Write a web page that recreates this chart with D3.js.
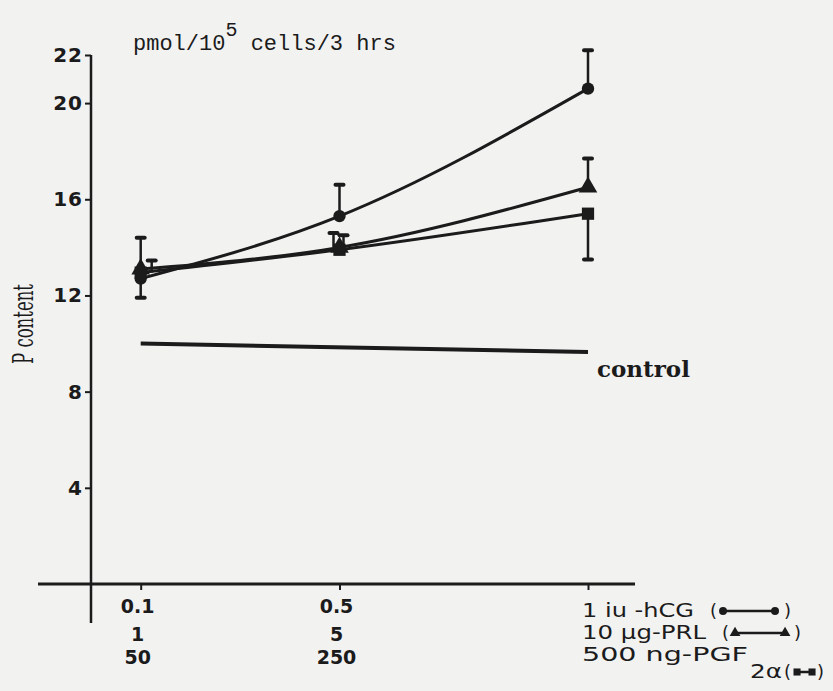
<!DOCTYPE html>
<html>
<head>
<meta charset="utf-8">
<script src="https://cdn.jsdelivr.net/npm/d3@7"></script>
<style>
  body { margin: 0; background: #f2f2f1; }
  svg { display: block; }
</style>
</head>
<body>
<svg id="chart"></svg>
<script>
// dose levels (fraction of top dose) and the three label rows under each tick
const doses = [0.1, 0.5, 1];
const doseRow1 = ["0.1", "0.5", "1 iu -hCG"];
const doseRow2 = ["1", "5", "10 \u00b5g-PRL"];
const doseRow3 = ["50", "250", "500 ng-PGF"];

// P content, pmol/10^5 cells/3 hrs
const hcg = [12.7, 15.3, 20.6];
const hcgErrUp = [0, 1.3, 1.6];
const hcgErrDown = [0.8, 0, 0];
const prl = [13.1, 14.0, 16.5];
const prlErrUp = [1.3, 0.6, 1.2];
const prlErrDown = [0, 0, 0];
const pgf = [12.95, 13.9, 15.4];
const pgfErrUp = [0.5, 0.6, 0];
const pgfErrDown = [0, 0, 1.9];

const controlDoses = [0.1, 1];
const control = [10.0, 9.65];

const yTicks = [4, 8, 12, 16, 20, 22];

const width = 833, height = 691;
const ink = "#1b1b1b";

const svg = d3.select("#chart")
  .attr("width", width)
  .attr("height", height);

const x = d3.scaleLinear().domain([0, 1]).range([91, 588]);
const y = d3.scaleLinear().domain([0, 22]).range([584, 55]);

// x axis line, runs past both ends
svg.append("line")
  .attr("x1", 38).attr("x2", 635)
  .attr("y1", y(0)).attr("y2", y(0))
  .attr("stroke", ink).attr("stroke-width", 3);

// y axis line, runs below the x axis
svg.append("line")
  .attr("x1", x(0)).attr("x2", x(0))
  .attr("y1", y(22)).attr("y2", y(0) + 39)
  .attr("stroke", ink).attr("stroke-width", 2.5);

const labelFont = "'DejaVu Sans', sans-serif";

const yAxis = svg.append("g")
  .attr("transform", "translate(" + x(0) + ",0)")
  .call(d3.axisLeft(y).tickValues(yTicks).tickSize(6).tickPadding(2));
yAxis.select(".domain").remove();
yAxis.selectAll("line").attr("stroke", ink).attr("stroke-width", 2);
yAxis.selectAll("text")
  .attr("fill", ink)
  .style("font-family", labelFont)
  .style("font-size", "20px")
  .style("font-weight", "bold")
  .style("letter-spacing", "1px");

const xAxis = svg.append("g")
  .attr("transform", "translate(0," + y(0) + ")")
  .call(d3.axisBottom(x).tickValues(doses).tickSize(6).tickFormat(""));
xAxis.select(".domain").remove();
xAxis.selectAll("line").attr("stroke", ink).attr("stroke-width", 2);

// x tick labels, three rows
const rows = [doseRow1, doseRow2, doseRow3];
const rowY = [613, 641, 664];
rows.forEach((row, r) => {
  row.forEach((t, i) => {
    if (i === 2) return;
    svg.append("text")
      .attr("x", x(doses[i]) - 3)
      .attr("y", rowY[r])
      .attr("text-anchor", "middle")
      .attr("fill", ink)
      .style("font-family", labelFont)
      .style("font-size", "19px")
      .style("font-weight", "bold")
      .text(t);
  });
});

// series definitions
const series = [
  { name: "hcg", values: hcg, up: hcgErrUp, down: hcgErrDown, shape: d3.symbolCircle, errDx: [0, 0, 0] },
  { name: "prl", values: prl, up: prlErrUp, down: prlErrDown, shape: d3.symbolTriangle, errDx: [0, -6, 0] },
  { name: "pgf", values: pgf, up: pgfErrUp, down: pgfErrDown, shape: d3.symbolSquare, errDx: [11, 4, 0] }
];

// control line
svg.append("path")
  .datum(controlDoses.map((d, i) => [d, control[i]]))
  .attr("fill", "none")
  .attr("stroke", ink)
  .attr("stroke-width", 4)
  .attr("d", d3.line().x(d => x(d[0])).y(d => y(d[1])));

svg.append("text")
  .attr("x", 597).attr("y", 377)
  .attr("fill", ink)
  .style("font-family", "'DejaVu Serif', serif")
  .style("font-size", "23px")
  .style("font-weight", "bold")
  .text("control");

series.forEach(s => {
  const pts = doses.map((d, i) => [d, s.values[i]]);
  svg.append("path")
    .datum(pts)
    .attr("fill", "none")
    .attr("stroke", ink)
    .attr("stroke-width", 3)
    .attr("d", d3.line().x(d => x(d[0])).y(d => y(d[1])).curve(d3.curveMonotoneX));

  // error bars
  doses.forEach((d, i) => {
    const cx = x(d) + s.errDx[i];
    [[s.up[i], 1], [s.down[i], -1]].forEach(([e, dir]) => {
      if (!e) return;
      const yEnd = y(s.values[i] + dir * e);
      svg.append("line")
        .attr("x1", cx).attr("x2", cx)
        .attr("y1", y(s.values[i])).attr("y2", yEnd)
        .attr("stroke", ink).attr("stroke-width", 2.5);
      svg.append("line")
        .attr("x1", cx - 4).attr("x2", cx + 4)
        .attr("y1", yEnd).attr("y2", yEnd)
        .attr("stroke", ink).attr("stroke-width", 4)
        .attr("stroke-linecap", "round");
    });
  });

  svg.selectAll(null)
    .data(pts)
    .enter()
    .append("path")
    .attr("transform", d => "translate(" + x(d[0]) + "," + y(d[1]) + ")")
    .attr("d", d3.symbol().type(s.shape).size(s.shape === d3.symbolCircle ? 120 : 150))
    .attr("fill", ink);
});

// title
const title = svg.append("text")
  .attr("x", 133).attr("y", 50)
  .attr("fill", ink)
  .style("font-family", "'Liberation Mono', monospace")
  .style("font-size", "22px");
title.append("tspan").text("pmol/10");
title.append("tspan").attr("dy", -14).style("font-size", "20px").text("5");
title.append("tspan").attr("dy", 14).text(" cells/3 hrs");

// y label
svg.append("text")
  .attr("transform", "translate(33,324) rotate(-90)")
  .attr("text-anchor", "middle")
  .attr("fill", ink)
  .attr("textLength", 80)
  .attr("lengthAdjust", "spacingAndGlyphs")
  .style("font-family", "'DejaVu Serif', serif")
  .style("font-size", "28px")
  .text("P content");

// third column labels with inline legend keys
const legendRowY = [617, 639, 661];
const legendTextLen = [112, 124, 166];
const legendKeyLen = [52, 50, 15];
rows.forEach((row, r) => {
  const x0 = x(1) - 6;
  svg.append("text")
    .attr("x", x0)
    .attr("y", legendRowY[r])
    .attr("fill", ink)
    .attr("textLength", legendTextLen[r])
    .attr("lengthAdjust", "spacingAndGlyphs")
    .style("font-family", labelFont)
    .style("font-size", "19px")
    .text(row[2]);
  let baseY = legendRowY[r];
  let cursor = x0 + legendTextLen[r];
  let gap = 16;
  if (r === 2) {
    baseY += 17;
    svg.append("text")
      .attr("x", cursor + 2)
      .attr("y", baseY)
      .attr("fill", ink)
      .attr("textLength", 32)
      .attr("lengthAdjust", "spacingAndGlyphs")
      .style("font-family", labelFont)
      .style("font-size", "19px")
      .text("2\u03b1");
    cursor += 34;
    gap = 2;
  }
  const open = svg.append("text")
    .attr("x", cursor + gap)
    .attr("y", baseY)
    .attr("fill", ink)
    .style("font-family", labelFont)
    .style("font-size", "18px")
    .text("(");
  cursor += gap + open.node().getComputedTextLength();
  const x1 = cursor + 6, x2 = x1 + legendKeyLen[r];
  const ly = baseY - 6;
  svg.append("line")
    .attr("x1", x1).attr("x2", x2)
    .attr("y1", ly).attr("y2", ly)
    .attr("stroke", ink).attr("stroke-width", 2.5);
  const small = d3.symbol().type(series[r].shape).size(50);
  [x1, x2].forEach(px => {
    svg.append("path")
      .attr("transform", "translate(" + px + "," + ly + ")")
      .attr("d", small)
      .attr("fill", ink);
  });
  svg.append("text")
    .attr("x", x2 + (r === 2 ? 5 : 9)).attr("y", baseY)
    .attr("fill", ink)
    .style("font-family", labelFont)
    .style("font-size", "18px")
    .text(")");
});
</script>
</body>
</html>
